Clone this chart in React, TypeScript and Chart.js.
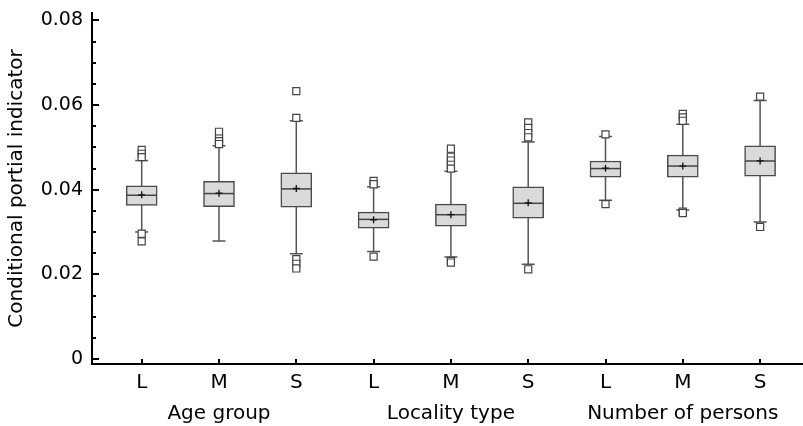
import React, { useEffect, useRef } from 'react';
import { Chart, registerables } from 'chart.js';

Chart.register(...registerables);

const categories = ['L', 'M', 'S', 'L', 'M', 'S', 'L', 'M', 'S'];
const groups = ['Age group', 'Locality type', 'Number of persons'];
const whiskerLow = [0.0300, 0.0279, 0.0249, 0.0254, 0.0241, 0.0224, 0.0375, 0.0352, 0.0324];
const q1 = [0.0363, 0.0360, 0.0359, 0.0309, 0.0314, 0.0333, 0.0430, 0.0430, 0.0432];
const median = [0.0387, 0.0391, 0.0402, 0.0330, 0.0341, 0.0368, 0.0450, 0.0456, 0.0468];
const q3 = [0.0409, 0.0420, 0.0440, 0.0347, 0.0366, 0.0407, 0.0468, 0.0482, 0.0504];
const whiskerHigh = [0.0469, 0.0504, 0.0563, 0.0407, 0.0444, 0.0513, 0.0526, 0.0555, 0.0611];
const mean = [0.0388, 0.0392, 0.0403, 0.0329, 0.0341, 0.0369, 0.0451, 0.0456, 0.0468];
const outliers = [
  [0.0494, 0.0485, 0.0477, 0.0296, 0.0278],
  [0.0537, 0.0521, 0.0515, 0.0508],
  [0.0633, 0.0570, 0.0236, 0.0225, 0.0214],
  [0.0421, 0.0413, 0.0242],
  [0.0497, 0.0478, 0.0469, 0.0459, 0.0450, 0.0232, 0.0228],
  [0.0559, 0.0546, 0.0534, 0.0524, 0.0212],
  [0.0531, 0.0366],
  [0.0579, 0.0571, 0.0563, 0.0348, 0.0345],
  [0.0620, 0.0312],
];
const yTickValues = [0, 0.005, 0.01, 0.015, 0.02, 0.025, 0.03, 0.035, 0.04, 0.045, 0.05, 0.055, 0.06, 0.065, 0.07, 0.075, 0.08];
const yLabelledTicks = [0, 0.02, 0.04, 0.06, 0.08];
const yTitle = 'Conditional portial indicator';

const FONT = "'DejaVu Sans', sans-serif";

const isLabelled = (v: number) => yLabelledTicks.some((t) => Math.abs(t - v) < 1e-9);

const boxPlugin = {
  id: 'boxDecor',
  beforeDatasetsDraw(chart: any) {
    const { ctx, scales } = chart;
    const x = scales.x;
    const y = scales.y;
    ctx.save();
    ctx.strokeStyle = '#555';
    ctx.lineWidth = 1.5;
    categories.forEach((_, i) => {
      const px = x.getPixelForValue(i);
      const lo = y.getPixelForValue(whiskerLow[i]);
      const hi = y.getPixelForValue(whiskerHigh[i]);
      ctx.beginPath();
      ctx.moveTo(px, lo);
      ctx.lineTo(px, hi);
      ctx.moveTo(px - 6.5, lo);
      ctx.lineTo(px + 6.5, lo);
      ctx.moveTo(px - 6.5, hi);
      ctx.lineTo(px + 6.5, hi);
      ctx.stroke();
    });
    ctx.restore();
  },
  afterDatasetsDraw(chart: any) {
    const { ctx, scales } = chart;
    const x = scales.x;
    const y = scales.y;
    ctx.save();
    categories.forEach((_, i) => {
      const px = x.getPixelForValue(i);
      const pm = y.getPixelForValue(median[i]);
      ctx.strokeStyle = '#444';
      ctx.lineWidth = 1.5;
      ctx.beginPath();
      ctx.moveTo(px - 15, pm);
      ctx.lineTo(px + 15, pm);
      ctx.stroke();
      const pmean = y.getPixelForValue(mean[i]);
      ctx.strokeStyle = '#111';
      ctx.lineWidth = 1.3;
      ctx.beginPath();
      ctx.moveTo(px - 3.5, pmean);
      ctx.lineTo(px + 3.5, pmean);
      ctx.moveTo(px, pmean - 3.5);
      ctx.lineTo(px, pmean + 3.5);
      ctx.stroke();
    });
    ctx.restore();
  },
  afterDraw(chart: any) {
    const { ctx, scales, chartArea } = chart;
    const x = scales.x;
    const y = scales.y;
    ctx.save();
    ctx.strokeStyle = '#000';
    ctx.lineWidth = 2;
    ctx.beginPath();
    yTickValues.forEach((v) => {
      const py = Math.round(y.getPixelForValue(v));
      const len = isLabelled(v) ? 7 : 4;
      ctx.moveTo(chartArea.left, py);
      ctx.lineTo(chartArea.left + len, py);
    });
    categories.forEach((_, i) => {
      const px = Math.round(x.getPixelForValue(i));
      ctx.moveTo(px, chartArea.bottom);
      ctx.lineTo(px, chartArea.bottom - 5);
    });
    ctx.stroke();
    ctx.restore();
  },
};

export default function App() {
  const ref = useRef<HTMLCanvasElement | null>(null);

  useEffect(() => {
    if (!ref.current) return;
    const outlierPoints: { x: number; y: number }[] = [];
    outliers.forEach((arr, i) => arr.forEach((v) => outlierPoints.push({ x: i, y: v })));

    const chart = new Chart(ref.current, {
      type: 'bar',
      data: {
        datasets: [
          {
            type: 'scatter',
            data: outlierPoints,
            pointStyle: 'rect',
            radius: 5,
            hoverRadius: 5,
            backgroundColor: '#ffffff',
            borderColor: '#444444',
            borderWidth: 1.2,
            order: 0,
          } as any,
          {
            type: 'bar',
            data: categories.map((_, i) => ({ x: i, y: [q1[i], q3[i]] })),
            backgroundColor: '#dadada',
            borderColor: '#4a4a4a',
            borderWidth: 1.5,
            borderSkipped: false,
            barThickness: 31,
            order: 1,
          } as any,
        ],
      },
      options: {
        responsive: false,
        animation: false,
        devicePixelRatio: 1,
        layout: { autoPadding: false, padding: { top: 13, left: 0, right: 0, bottom: 0 } },
        plugins: { legend: { display: false }, tooltip: { enabled: false } },
        scales: {
          x: {
            type: 'linear',
            offset: false,
            min: -0.643,
            max: 8.555,
            grid: { display: false, drawTicks: false, offset: false },
            border: { display: true, color: '#000', width: 2 },
            afterBuildTicks: (s: any) => {
              s.ticks = categories.map((_, i) => ({ value: i }));
            },
            afterFit: (s: any) => {
              s.height = 62;
              s.paddingLeft = 0;
              s.paddingRight = 0;
            },
            ticks: {
              autoSkip: false,
              maxRotation: 0,
              padding: 3.5,
              color: '#000',
              font: { family: FONT, size: 20, lineHeight: 1.55 },
              callback: (value: any) => {
                const i = Math.round(Number(value));
                if (i % 3 === 1) return [categories[i], groups[(i - 1) / 3]];
                return categories[i];
              },
            },
          },
          y: {
            type: 'linear',
            min: -0.00118,
            max: 0.08177,
            grid: { display: false, drawTicks: false },
            border: { display: true, color: '#000', width: 2 },
            afterBuildTicks: (s: any) => {
              s.ticks = yTickValues.map((v) => ({ value: v }));
            },
            afterFit: (s: any) => {
              s.width = 92;
              s.paddingTop = 0;
              s.paddingBottom = 0;
            },
            ticks: {
              autoSkip: false,
              padding: 9,
              color: '#000',
              font: { family: FONT, size: 19 },
              callback: (value: any) => {
                const v = Number(value);
                if (!isLabelled(v)) return '';
                return v === 0 ? '0' : v.toFixed(2);
              },
            },
            title: {
              display: true,
              text: yTitle,
              color: '#000',
              font: { family: FONT, size: 20 },
              padding: { top: 5, bottom: 0 },
            },
          },
        },
      },
      plugins: [boxPlugin],
    } as any);
    return () => chart.destroy();
  }, []);

  return (
    <div style={{ position: 'fixed', left: 0, top: 0, width: 803, height: 426, background: '#fff' }}>
      <canvas ref={ref} width={803} height={426} style={{ display: 'block' }} />
    </div>
  );
}
